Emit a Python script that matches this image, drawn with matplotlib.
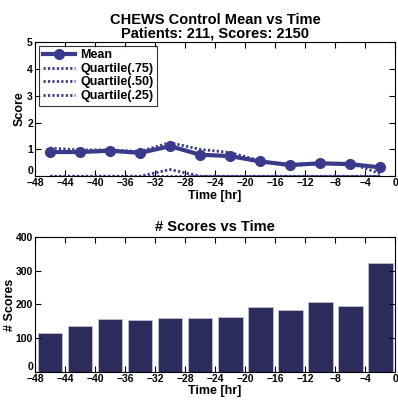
import numpy as np
import matplotlib
matplotlib.use("Agg")
import matplotlib.pyplot as plt

plt.rcParams["font.family"] = ["Liberation Sans", "DejaVu Sans"]
plt.rcParams["font.weight"] = "bold"

# ---------- data ----------
hours = [-46, -42, -38, -34, -30, -26, -22, -18, -14, -10, -6, -2]
mean_score = [0.90, 0.90, 0.95, 0.87, 1.12, 0.80, 0.75, 0.55, 0.42, 0.48, 0.45, 0.33]
q75 = [1.05, 0.98, 0.98, 0.92, 1.25, 1.00, 0.88, 0.58, 0.38, 0.48, 0.48, 0.10]
q50 = [0.00, 0.00, 0.00, 0.00, 0.25, 0.00, 0.00, 0.00, 0.00, 0.00, 0.00, 0.00]
q25 = [0.00, 0.00, 0.00, 0.00, 0.00, 0.00, 0.00, 0.00, 0.00, 0.00, 0.00, 0.00]
n_scores = [115, 137, 158, 154, 160, 160, 163, 192, 184, 207, 196, 324]
xticks = list(range(-48, 1, 4))

LINE = "#3a3a8c"
BAR = "#2b2b5c"

fig = plt.figure(figsize=(3.98, 4.07), dpi=100)
ax1 = fig.add_axes([0.088, 0.567, 0.905, 0.330])
ax2 = fig.add_axes([0.088, 0.086, 0.905, 0.332])

# ---------- top: mean vs time ----------
ax1.plot(hours, q75, ls=(0, (0.8, 0.8)), color=LINE, lw=2, label="Quartile(.75)")
ax1.plot(hours, q50, ls=(0, (0.8, 0.8)), color=LINE, lw=2, label="Quartile(.50)")
ax1.plot(hours, q25, ls=(0, (0.8, 0.8)), color=LINE, lw=2, label="Quartile(.25)")
ax1.plot(hours, mean_score, "-o", color=LINE, lw=3, ms=7, label="Mean")
h, l = ax1.get_legend_handles_labels()
order = [3, 0, 1, 2]
leg = ax1.legend([h[i] for i in order], [l[i] for i in order], loc="upper left",
                 fontsize=9, frameon=True, fancybox=False, edgecolor="black",
                 borderpad=0.3, labelspacing=0.12, handlelength=2.6, handletextpad=0.4,
                 borderaxespad=0.3)
leg.get_frame().set_linewidth(0.8)
ax1.set_xlim(-48, 0); ax1.set_ylim(0, 5)
ax1.set_yticks(range(6))
ax1.set_title("CHEWS Control Mean vs Time\nPatients: 211, Scores: 2150",
              fontsize=10.5, fontweight="bold", pad=3, linespacing=1.0)
ax1.set_ylabel("Score", fontsize=9, fontweight="bold", labelpad=1)
ax1.set_xlabel("Time [hr]", fontsize=9, fontweight="bold", labelpad=1)

# ---------- bottom: count vs time ----------
ax2.bar(hours, n_scores, width=3.3, color=BAR, edgecolor="#c8c8d8", linewidth=0.5)
ax2.set_xlim(-48, 0); ax2.set_ylim(0, 400)
ax2.set_yticks(range(0, 401, 100))
ax2.set_title("# Scores vs Time", fontsize=10.5, fontweight="bold", pad=4)
ax2.set_ylabel("# Scores", fontsize=9, fontweight="bold", labelpad=0)
ax2.set_xlabel("Time [hr]", fontsize=9, fontweight="bold", labelpad=1)

for ax in (ax1, ax2):
    ax.set_xticks(xticks)
    ax.set_xticklabels([str(t) if t == 0 else "\u2212%d" % -t for t in xticks])
    ax.tick_params(direction="in", top=True, right=True, length=4, width=0.8,
                   labelsize=7.5, pad=1.5)
    # lift the 0 label so it clears the first x label
    ax.get_yticklabels()[0].set_verticalalignment("bottom")
    for s in ax.spines.values():
        s.set_linewidth(0.8)

fig.savefig("out.png", dpi=100)
